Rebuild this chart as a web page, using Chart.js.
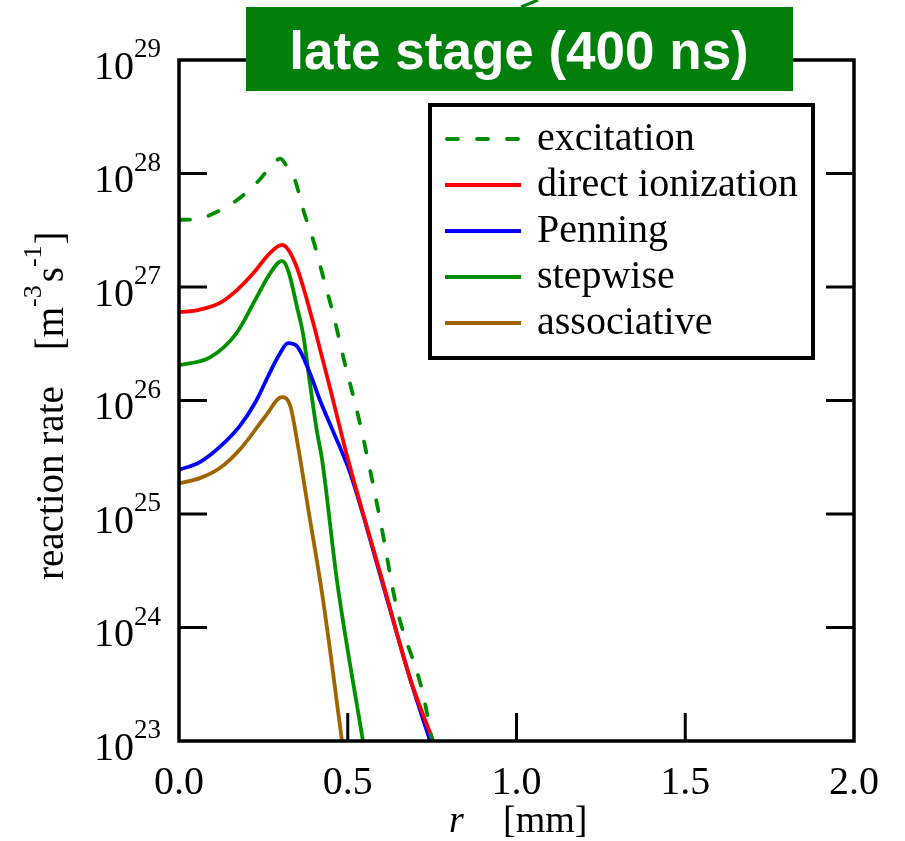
<!DOCTYPE html>
<html>
<head>
<meta charset="utf-8">
<script src="https://cdn.jsdelivr.net/npm/chart.js@4"></script>
<style>
  html, body { margin: 0; padding: 0; background: #ffffff; }
  #wrap { width: 905px; height: 841px; }
</style>
</head>
<body>
<div id="wrap"><canvas id="c" width="905" height="841"></canvas></div>
<script>
// ---------- data (r in mm, rates in m^-3 s^-1) ----------
const seriesNames = ['excitation', 'direct ionization', 'Penning', 'stepwise', 'associative'];

const rExcitation = [0, 0.06, 0.113, 0.16, 0.2, 0.24, 0.28, 0.30, 0.32, 0.344, 0.368, 0.40, 0.427, 0.46, 0.487, 0.536, 0.596, 0.645, 0.723, 0.75];
const excitation  = [3.9e27, 4.0e27, 4.6e27, 5.5e27, 6.8e27, 8.9e27, 1.23e28, 1.35e28, 1.15e28, 8.7e27, 4.8e27, 2.45e27, 1.23e27, 5.3e26, 2.4e26, 6.3e25, 8.9e24, 1.5e24, 2.6e23, 1.0e23];

const rDirect = [0, 0.06, 0.12, 0.17, 0.22, 0.27, 0.305, 0.323, 0.345, 0.368, 0.403, 0.45, 0.501, 0.604, 0.684, 0.753];
const direct  = [6.0e26, 6.3e26, 7.2e26, 9.3e26, 1.32e27, 2.0e27, 2.35e27, 2.15e27, 1.6e27, 1.0e27, 4.2e26, 1.2e26, 3.0e25, 2.5e24, 3.6e23, 1.0e23];

const rPenning = [0, 0.062, 0.121, 0.181, 0.225, 0.27, 0.299, 0.323, 0.35, 0.388, 0.418, 0.456, 0.507, 0.604, 0.684, 0.744];
const penning  = [2.45e25, 2.87e25, 3.9e25, 6.0e25, 9.5e25, 1.78e26, 2.6e26, 3.2e26, 3.0e26, 1.74e26, 1.0e26, 5.4e25, 2.3e25, 2.4e24, 3.6e23, 1.0e23];

const rStepwise = [0, 0.092, 0.17, 0.23, 0.27, 0.305, 0.323, 0.35, 0.368, 0.388, 0.408, 0.424, 0.468, 0.545];
const stepwise  = [2.05e26, 2.4e26, 3.9e26, 8.1e26, 1.32e27, 1.7e27, 1.41e27, 6.6e26, 3.8e26, 1.41e26, 5.5e25, 3.0e25, 2.6e24, 1.0e23];

const rAssociative = [0, 0.062, 0.121, 0.187, 0.255, 0.305, 0.329, 0.353, 0.382, 0.427, 0.483];
const associative  = [1.86e25, 2.07e25, 2.54e25, 3.9e25, 7.2e25, 1.07e26, 9.1e25, 3.9e25, 1.15e25, 1.74e24, 1.0e23];

const xTickValues = [0, 0.5, 1.0, 1.5, 2.0];
const xTickLabels = ['0.0', '0.5', '1.0', '1.5', '2.0'];
const yTickExponents = [23, 24, 25, 26, 27, 28, 29];

const titleText = 'late stage (400 ns)';

// ---------- styles ----------
const colors = ['#008c00', '#ff0000', '#0000ff', '#009000', '#a06400'];
const SERIF = '"Liberation Serif", "Times New Roman", serif';

function pts(r, v) { return r.map((x, i) => ({ x: x, y: v[i] })); }

const allR = [rExcitation, rDirect, rPenning, rStepwise, rAssociative];
const allV = [excitation, direct, penning, stepwise, associative];

const datasets = seriesNames.map((name, i) => ({
  label: name,
  data: pts(allR[i], allV[i]),
  borderColor: colors[i],
  backgroundColor: colors[i],
  borderWidth: 3.8,
  borderDash: i === 0 ? [11, 19] : [],
  borderCapStyle: i === 0 ? 'round' : 'butt',
  borderJoinStyle: 'round',
  pointRadius: 0,
  fill: false,
  cubicInterpolationMode: 'monotone'
}));
datasets.forEach((d, i) => { d.order = i; });

const decorPlugin = {
  id: 'decor',
  afterDatasetsDraw(chart) {
    const ctx = chart.ctx;
    const xs = chart.scales.x, ys = chart.scales.y;
    const L = chart.chartArea.left, R = chart.chartArea.right, T = chart.chartArea.top, B = chart.chartArea.bottom;
    ctx.save();
    // frame
    ctx.strokeStyle = '#000';
    ctx.lineWidth = 3.5;
    ctx.lineJoin = 'miter';
    ctx.strokeRect(L, T, R - L, B - T);
    // ticks
    const tl = 28;
    ctx.lineWidth = 3;
    ctx.beginPath();
    yTickExponents.forEach(e => {
      if (e === 23 || e === 29) return;
      const py = ys.getPixelForValue(Math.pow(10, e));
      ctx.moveTo(L, py); ctx.lineTo(L + tl, py);
      ctx.moveTo(R, py); ctx.lineTo(R - tl, py);
    });
    xTickValues.forEach(v => {
      if (v === 0 || v === 2) return;
      const px = xs.getPixelForValue(v);
      ctx.moveTo(px, B); ctx.lineTo(px, B - tl);
      ctx.moveTo(px, T); ctx.lineTo(px, T + tl);
    });
    ctx.stroke();

    // y tick labels 10^n
    ctx.fillStyle = '#000';
    yTickExponents.forEach(e => {
      const py = ys.getPixelForValue(Math.pow(10, e));
      ctx.font = '40px ' + SERIF;
      ctx.textAlign = 'right';
      ctx.textBaseline = 'alphabetic';
      ctx.fillText('10', 134, py + 18.5);
      ctx.font = '27px ' + SERIF;
      ctx.textAlign = 'left';
      ctx.fillText(String(e), 134, py - 3);
    });
    // x tick labels
    ctx.font = '40px ' + SERIF;
    ctx.textAlign = 'center';
    xTickValues.forEach((v, i) => {
      const px = xs.getPixelForValue(v);
      ctx.fillText(xTickLabels[i], px, 794);
    });
    // x title
    ctx.textAlign = 'left';
    ctx.font = 'italic 38px ' + SERIF;
    ctx.fillText('r', 449, 832);
    ctx.font = '38px ' + SERIF;
    ctx.fillText('[mm]', 503, 832);

    // y title (rotated)
    ctx.save();
    ctx.translate(63, 580);
    ctx.rotate(-Math.PI / 2);
    ctx.textAlign = 'left';
    ctx.font = '39px ' + SERIF;
    let cx = 0;
    ctx.fillText('reaction rate', cx, 0);
    cx += ctx.measureText('reaction rate').width + 36;
    ctx.fillText('[m', cx, 0);
    cx += ctx.measureText('[m').width;
    ctx.font = '26px ' + SERIF;
    ctx.fillText('-3', cx, -22);
    cx += ctx.measureText('-3').width + 3;
    ctx.font = '39px ' + SERIF;
    ctx.fillText('s', cx, 0);
    cx += ctx.measureText('s').width;
    ctx.font = '26px ' + SERIF;
    ctx.fillText('-1', cx, -22);
    cx += ctx.measureText('-1').width + 1;
    ctx.font = '39px ' + SERIF;
    ctx.fillText(']', cx, 0);
    ctx.restore();

    // legend
    const lx = 430, ly = 105, lw = 383, lh = 253;
    ctx.fillStyle = '#fff';
    ctx.fillRect(lx, ly, lw, lh);
    ctx.strokeStyle = '#000';
    ctx.lineWidth = 4;
    ctx.strokeRect(lx, ly, lw, lh);
    const rowY0 = 139, rowDy = 46;
    chart.data.datasets.forEach((d, i) => {
      const ry = rowY0 + i * rowDy;
      ctx.strokeStyle = d.borderColor;
      ctx.lineWidth = 3.8;
      ctx.lineCap = d.borderCapStyle;
      ctx.setLineDash(d.borderDash);
      ctx.beginPath();
      ctx.moveTo(i === 0 ? 447 : 445, ry);
      ctx.lineTo(521, ry);
      ctx.stroke();
      ctx.setLineDash([]);
      ctx.lineCap = 'butt';
      ctx.fillStyle = '#000';
      ctx.font = '40px ' + SERIF;
      ctx.textAlign = 'left';
      ctx.textBaseline = 'alphabetic';
      ctx.fillText(d.label, 537, ry + 11);
    });

    // title box
    ctx.fillStyle = '#007f0b';
    ctx.fillRect(246, 7, 547, 84);
    ctx.fillStyle = '#fff';
    ctx.font = 'bold 53px "Liberation Sans", Arial, sans-serif';
    ctx.textAlign = 'center';
    ctx.fillText(titleText, 519, 69);
    // arrow fragment at top
    ctx.strokeStyle = '#007f0b';
    ctx.lineWidth = 3;
    ctx.beginPath();
    ctx.moveTo(521, 7);
    ctx.lineTo(538, 0);
    ctx.stroke();
    ctx.restore();
  }
};

new Chart(document.getElementById('c'), {
  type: 'line',
  data: { datasets: datasets },
  options: {
    responsive: false,
    animation: false,
    devicePixelRatio: 1,
    layout: { padding: { left: 179, right: 51, top: 60, bottom: 100 } },
    plugins: { legend: { display: false }, title: { display: false }, tooltip: { enabled: false } },
    scales: {
      x: { type: 'linear', min: 0, max: 2, display: false },
      y: { type: 'logarithmic', min: 1e23, max: 1e29, display: false }
    }
  },
  plugins: [decorPlugin]
});
</script>
</body>
</html>
